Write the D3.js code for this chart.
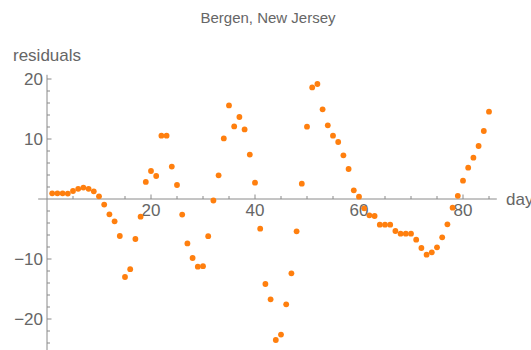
<!DOCTYPE html>
<html><head><meta charset="utf-8">
<script src="https://cdn.jsdelivr.net/npm/d3@7"></script>
<style>body{margin:0;background:#fff}svg{display:block}text{font-family:"Liberation Sans",Arial,sans-serif}</style>
</head><body><svg id="c" width="531" height="350"></svg>
<script>
const title = "Bergen, New Jersey";
const xLabel = "day";
const yLabel = "residuals";
const days = d3.range(1, 86);
const residuals = [
 0.95,0.95,0.95,0.9,1.33,1.7,1.9,1.7,1.28,0.45,
 -0.93,-2.56,-3.72,-6.17,-13.0,-11.7,-6.67,-2.94,2.85,4.67,
 3.83,10.55,10.55,5.4,2.33,-2.6,-7.4,-9.83,-11.28,-11.2,
 -6.2,-0.25,3.94,10.1,15.6,12.1,13.67,11.6,7.4,2.72,
 -4.94,-14.17,-16.72,-23.5,-22.6,-17.56,-12.39,-5.39,2.56,12.06,
 18.6,19.17,14.94,12.28,10.56,9.5,7.28,5.0,1.44,0.39,
 -1.56,-2.72,-2.83,-4.28,-4.28,-4.28,-5.33,-5.78,-5.78,-5.78,
 -6.78,-8.17,-9.28,-8.89,-8.06,-6.39,-4.22,-1.44,0.53,3.05,
 5.22,6.89,8.83,11.33,14.56];
const xTicks = [20, 40, 60, 80];
const yTicks = [-20, -10, 10, 20];

const svg = d3.select("#c");
const x = d3.scaleLinear().domain([0, 80]).range([47, 463]);
const y = d3.scaleLinear().domain([0, 20]).range([199, 79]);
const axisCol = "#8a8a8a", labCol = "#666";

svg.append("line").attr("x1", x(-1.7)).attr("x2", x(86.5)).attr("y1", y(0)).attr("y2", y(0))
  .attr("stroke", axisCol).attr("stroke-width", 1);
svg.append("line").attr("x1", x(0)).attr("x2", x(0)).attr("y1", y(20.7)).attr("y2", y(-25.5))
  .attr("stroke", axisCol).attr("stroke-width", 1);

d3.range(5, 86, 5).forEach(v => {
  const major = v % 20 === 0;
  svg.append("line").attr("x1", x(v)).attr("x2", x(v)).attr("y1", y(0)).attr("y2", y(0) - (major ? 4.5 : 3))
    .attr("stroke", axisCol);
});
xTicks.forEach(v => svg.append("text").attr("x", x(v)).attr("y", 216).attr("text-anchor", "middle")
  .attr("font-size", 17).attr("fill", labCol).text(v));
d3.range(-24, 21, 2).filter(v => v !== 0).forEach(v => {
  const major = v % 10 === 0;
  svg.append("line").attr("x1", x(0)).attr("x2", x(0) + (major ? 4.5 : 3)).attr("y1", y(v)).attr("y2", y(v))
    .attr("stroke", axisCol);
});
yTicks.forEach(v => svg.append("text").attr("x", 43).attr("y", y(v)).attr("dy", "0.36em").attr("text-anchor", "end")
  .attr("font-size", 17).attr("fill", labCol).text(v < 0 ? "\u2212" + Math.abs(v) : v));

svg.append("text").attr("x", 13).attr("y", 61).attr("font-size", 17).attr("fill", labCol).text(yLabel);
svg.append("text").attr("x", 506).attr("y", y(0)).attr("dy", "0.36em").attr("font-size", 17).attr("fill", labCol).text(xLabel);
svg.append("text").attr("x", 268).attr("y", 23).attr("text-anchor", "middle").attr("font-size", 15).attr("fill", labCol).text(title);

svg.append("g").selectAll("circle").data(days).join("circle")
  .attr("cx", d => x(d)).attr("cy", (d, i) => y(residuals[i])).attr("r", 2.9).attr("fill", "#ff7f0e");
</script></body></html>
